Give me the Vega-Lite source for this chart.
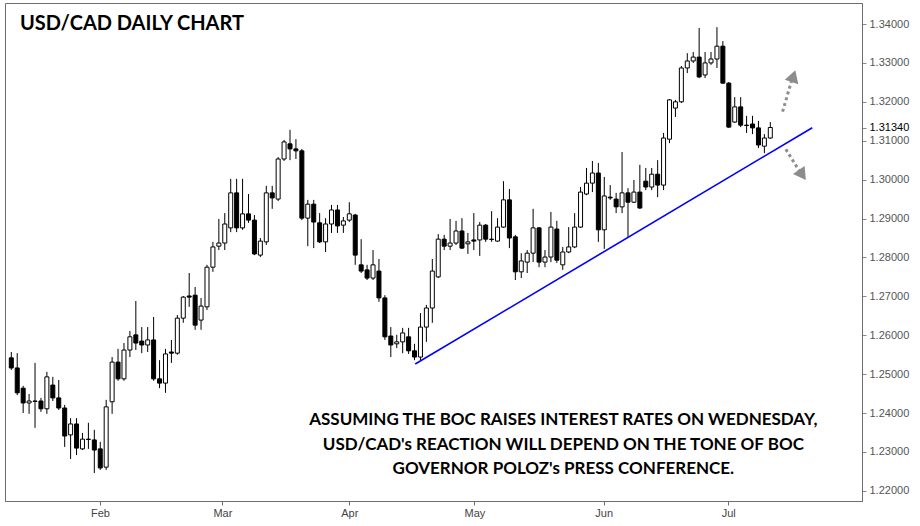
{
  "$schema": "https://vega.github.io/schema/vega-lite/v6.json",
  "width": 857,
  "height": 498,
  "autosize": {"type": "none"},
  "padding": {"left": 5, "top": 3, "right": 58, "bottom": 25},
  "background": "white",
  "config": {
    "view": {"stroke": "#6e6e6e", "strokeWidth": 1},
    "axis": {"grid": false}
  },
  "resolve": {"axis": {"x": "independent", "y": "independent"}},
  "datasets": {
    "candles": [
      {"i":0,"o":1.2542,"h":1.2557,"l":1.2511,"c":1.2516},
      {"i":1,"o":1.2516,"h":1.2554,"l":1.2446,"c":1.2452},
      {"i":2,"o":1.2464,"h":1.2470,"l":1.2400,"c":1.2426},
      {"i":3,"o":1.2426,"h":1.2449,"l":1.2398,"c":1.2431},
      {"i":4,"o":1.2431,"h":1.2529,"l":1.2362,"c":1.2430},
      {"i":5,"o":1.2431,"h":1.2439,"l":1.2403,"c":1.2411},
      {"i":6,"o":1.2411,"h":1.2506,"l":1.2398,"c":1.2493},
      {"i":7,"o":1.2472,"h":1.2493,"l":1.2431,"c":1.2439},
      {"i":8,"o":1.2439,"h":1.2485,"l":1.2408,"c":1.2413},
      {"i":9,"o":1.2413,"h":1.2421,"l":1.2313,"c":1.2341},
      {"i":10,"o":1.2344,"h":1.2387,"l":1.2282,"c":1.2372},
      {"i":11,"o":1.2372,"h":1.2387,"l":1.2292,"c":1.2310},
      {"i":12,"o":1.2308,"h":1.2349,"l":1.2305,"c":1.2333},
      {"i":13,"o":1.2333,"h":1.2375,"l":1.2308,"c":1.2332},
      {"i":14,"o":1.2331,"h":1.2357,"l":1.2246,"c":1.2305},
      {"i":15,"o":1.2308,"h":1.2326,"l":1.2254,"c":1.2259},
      {"i":16,"o":1.2261,"h":1.2434,"l":1.2254,"c":1.2416},
      {"i":17,"o":1.2429,"h":1.2544,"l":1.2398,"c":1.2531},
      {"i":18,"o":1.2531,"h":1.2565,"l":1.2483,"c":1.2488},
      {"i":19,"o":1.2488,"h":1.2580,"l":1.2483,"c":1.2562},
      {"i":20,"o":1.2562,"h":1.2611,"l":1.2544,"c":1.2596},
      {"i":21,"o":1.2601,"h":1.2688,"l":1.2562,"c":1.2580},
      {"i":22,"o":1.2585,"h":1.2621,"l":1.2554,"c":1.2575},
      {"i":23,"o":1.2575,"h":1.2621,"l":1.2557,"c":1.2588},
      {"i":24,"o":1.2588,"h":1.2647,"l":1.2483,"c":1.2488},
      {"i":25,"o":1.2488,"h":1.2536,"l":1.2464,"c":1.2477},
      {"i":26,"o":1.2477,"h":1.2565,"l":1.2452,"c":1.2552},
      {"i":27,"o":1.2557,"h":1.2588,"l":1.2529,"c":1.2554},
      {"i":28,"o":1.2554,"h":1.2652,"l":1.2550,"c":1.2644},
      {"i":29,"o":1.2644,"h":1.2701,"l":1.2632,"c":1.2698},
      {"i":30,"o":1.2701,"h":1.2760,"l":1.2673,"c":1.2698},
      {"i":31,"o":1.2703,"h":1.2724,"l":1.2614,"c":1.2626},
      {"i":32,"o":1.2639,"h":1.2696,"l":1.2614,"c":1.2675},
      {"i":33,"o":1.2673,"h":1.2781,"l":1.2665,"c":1.2775},
      {"i":34,"o":1.2775,"h":1.2840,"l":1.2763,"c":1.2827},
      {"i":35,"o":1.2829,"h":1.2899,"l":1.2819,"c":1.2837},
      {"i":36,"o":1.2837,"h":1.2914,"l":1.2819,"c":1.2886},
      {"i":37,"o":1.2876,"h":1.3002,"l":1.2865,"c":1.2966},
      {"i":38,"o":1.2966,"h":1.3002,"l":1.2865,"c":1.2876},
      {"i":39,"o":1.2876,"h":1.3002,"l":1.2871,"c":1.2912},
      {"i":40,"o":1.2912,"h":1.2963,"l":1.2889,"c":1.2896},
      {"i":41,"o":1.2896,"h":1.2909,"l":1.2806,"c":1.2809},
      {"i":42,"o":1.2806,"h":1.2850,"l":1.2801,"c":1.2842},
      {"i":43,"o":1.2840,"h":1.2984,"l":1.2832,"c":1.2966},
      {"i":44,"o":1.2966,"h":1.2984,"l":1.2925,"c":1.2953},
      {"i":45,"o":1.2950,"h":1.3058,"l":1.2945,"c":1.3053},
      {"i":46,"o":1.3053,"h":1.3102,"l":1.3048,"c":1.3097},
      {"i":47,"o":1.3092,"h":1.3128,"l":1.3050,"c":1.3079},
      {"i":48,"o":1.3079,"h":1.3104,"l":1.3053,"c":1.3074},
      {"i":49,"o":1.3074,"h":1.3079,"l":1.2896,"c":1.2901},
      {"i":50,"o":1.2901,"h":1.2948,"l":1.2829,"c":1.2937},
      {"i":51,"o":1.2937,"h":1.2948,"l":1.2824,"c":1.2891},
      {"i":52,"o":1.2889,"h":1.2914,"l":1.2837,"c":1.2840},
      {"i":53,"o":1.2840,"h":1.2901,"l":1.2814,"c":1.2886},
      {"i":54,"o":1.2886,"h":1.2935,"l":1.2863,"c":1.2922},
      {"i":55,"o":1.2922,"h":1.2935,"l":1.2863,"c":1.2881},
      {"i":56,"o":1.2883,"h":1.2904,"l":1.2863,"c":1.2894},
      {"i":57,"o":1.2896,"h":1.2942,"l":1.2891,"c":1.2912},
      {"i":58,"o":1.2909,"h":1.2912,"l":1.2781,"c":1.2806},
      {"i":59,"o":1.2781,"h":1.2847,"l":1.2760,"c":1.2765},
      {"i":60,"o":1.2768,"h":1.2781,"l":1.2742,"c":1.2747},
      {"i":61,"o":1.2747,"h":1.2819,"l":1.2742,"c":1.2781},
      {"i":62,"o":1.2765,"h":1.2796,"l":1.2686,"c":1.2696},
      {"i":63,"o":1.2696,"h":1.2703,"l":1.2588,"c":1.2596},
      {"i":64,"o":1.2598,"h":1.2621,"l":1.2544,"c":1.2575},
      {"i":65,"o":1.2578,"h":1.2601,"l":1.2567,"c":1.2583},
      {"i":66,"o":1.2583,"h":1.2619,"l":1.2554,"c":1.2606},
      {"i":67,"o":1.2596,"h":1.2619,"l":1.2552,"c":1.2560},
      {"i":68,"o":1.2560,"h":1.2578,"l":1.2536,"c":1.2544},
      {"i":69,"o":1.2544,"h":1.2657,"l":1.2536,"c":1.2621},
      {"i":70,"o":1.2621,"h":1.2678,"l":1.2583,"c":1.2670},
      {"i":71,"o":1.2670,"h":1.2796,"l":1.2632,"c":1.2765},
      {"i":72,"o":1.2750,"h":1.2860,"l":1.2747,"c":1.2847},
      {"i":73,"o":1.2847,"h":1.2858,"l":1.2819,"c":1.2829},
      {"i":74,"o":1.2829,"h":1.2899,"l":1.2819,"c":1.2837},
      {"i":75,"o":1.2837,"h":1.2894,"l":1.2832,"c":1.2868},
      {"i":76,"o":1.2868,"h":1.2901,"l":1.2822,"c":1.2824},
      {"i":77,"o":1.2835,"h":1.2863,"l":1.2809,"c":1.2840},
      {"i":78,"o":1.2845,"h":1.2914,"l":1.2819,"c":1.2842},
      {"i":79,"o":1.2845,"h":1.2891,"l":1.2804,"c":1.2883},
      {"i":80,"o":1.2883,"h":1.2886,"l":1.2840,"c":1.2847},
      {"i":81,"o":1.2847,"h":1.2919,"l":1.2840,"c":1.2846},
      {"i":82,"o":1.2842,"h":1.2901,"l":1.2840,"c":1.2878},
      {"i":83,"o":1.2878,"h":1.2996,"l":1.2876,"c":1.2948},
      {"i":84,"o":1.2948,"h":1.2976,"l":1.2824,"c":1.2850},
      {"i":85,"o":1.2853,"h":1.2858,"l":1.2742,"c":1.2763},
      {"i":86,"o":1.2763,"h":1.2811,"l":1.2747,"c":1.2791},
      {"i":87,"o":1.2788,"h":1.2819,"l":1.2760,"c":1.2811},
      {"i":88,"o":1.2811,"h":1.2925,"l":1.2788,"c":1.2876},
      {"i":89,"o":1.2876,"h":1.2878,"l":1.2775,"c":1.2788},
      {"i":90,"o":1.2788,"h":1.2819,"l":1.2775,"c":1.2801},
      {"i":91,"o":1.2801,"h":1.2917,"l":1.2788,"c":1.2878},
      {"i":92,"o":1.2873,"h":1.2894,"l":1.2786,"c":1.2793},
      {"i":93,"o":1.2781,"h":1.2827,"l":1.2768,"c":1.2814},
      {"i":94,"o":1.2814,"h":1.2878,"l":1.2811,"c":1.2827},
      {"i":95,"o":1.2827,"h":1.2914,"l":1.2824,"c":1.2878},
      {"i":96,"o":1.2878,"h":1.2981,"l":1.2876,"c":1.2968},
      {"i":97,"o":1.2963,"h":1.3030,"l":1.2960,"c":1.2991},
      {"i":98,"o":1.2991,"h":1.3048,"l":1.2968,"c":1.3017},
      {"i":99,"o":1.3017,"h":1.3043,"l":1.2840,"c":1.2871},
      {"i":100,"o":1.2871,"h":1.3007,"l":1.2822,"c":1.2958},
      {"i":101,"o":1.2955,"h":1.2986,"l":1.2948,"c":1.2953},
      {"i":102,"o":1.2950,"h":1.2966,"l":1.2914,"c":1.2930},
      {"i":103,"o":1.2930,"h":1.3071,"l":1.2914,"c":1.2966},
      {"i":104,"o":1.2966,"h":1.2978,"l":1.2853,"c":1.2942},
      {"i":105,"o":1.2942,"h":1.2999,"l":1.2940,"c":1.2968},
      {"i":106,"o":1.2968,"h":1.3038,"l":1.2925,"c":1.2927},
      {"i":107,"o":1.2996,"h":1.3030,"l":1.2973,"c":1.2981},
      {"i":108,"o":1.2981,"h":1.3030,"l":1.2973,"c":1.3014},
      {"i":109,"o":1.3014,"h":1.3050,"l":1.2955,"c":1.2986},
      {"i":110,"o":1.2986,"h":1.3120,"l":1.2973,"c":1.3107},
      {"i":111,"o":1.3104,"h":1.3207,"l":1.3094,"c":1.3205},
      {"i":112,"o":1.3184,"h":1.3205,"l":1.3161,"c":1.3200},
      {"i":113,"o":1.3200,"h":1.3292,"l":1.3197,"c":1.3287},
      {"i":114,"o":1.3287,"h":1.3325,"l":1.3274,"c":1.3305},
      {"i":115,"o":1.3305,"h":1.3328,"l":1.3300,"c":1.3315},
      {"i":116,"o":1.3315,"h":1.3390,"l":1.3261,"c":1.3264},
      {"i":117,"o":1.3269,"h":1.3328,"l":1.3261,"c":1.3300},
      {"i":118,"o":1.3300,"h":1.3328,"l":1.3295,"c":1.3310},
      {"i":119,"o":1.3310,"h":1.3392,"l":1.3287,"c":1.3343},
      {"i":120,"o":1.3343,"h":1.3356,"l":1.3246,"c":1.3248},
      {"i":121,"o":1.3248,"h":1.3251,"l":1.3133,"c":1.3135},
      {"i":122,"o":1.3148,"h":1.3212,"l":1.3146,"c":1.3187},
      {"i":123,"o":1.3187,"h":1.3212,"l":1.3135,"c":1.3140},
      {"i":124,"o":1.3140,"h":1.3164,"l":1.3120,"c":1.3139},
      {"i":125,"o":1.3143,"h":1.3164,"l":1.3117,"c":1.3133},
      {"i":126,"o":1.3133,"h":1.3151,"l":1.3081,"c":1.3089},
      {"i":127,"o":1.3086,"h":1.3117,"l":1.3068,"c":1.3107},
      {"i":128,"o":1.3107,"h":1.3148,"l":1.3105,"c":1.3134}
    ],
    "trend": [
      {"i": 68.12, "p": 1.2526},
      {"i": 135.07, "p": 1.31335}
    ],
    "arrows": [
      {"g": "up", "i": 130.07, "p": 1.31746},
      {"g": "up", "i": 131.6, "p": 1.3255},
      {"g": "down", "i": 130.62, "p": 1.3078},
      {"g": "down", "i": 133.0, "p": 1.3020}
    ],
    "heads": [
      {"dir": "up", "i": 131.9, "p": 1.3266},
      {"dir": "down", "i": 133.4, "p": 1.3012}
    ],
    "title": [
      {"i": 1.45, "p": 1.3385, "t": "USD/CAD DAILY CHART"}
    ],
    "notes": [
      {"i": 93.1, "p": 1.2369, "t": "ASSUMING THE BOC RAISES INTEREST RATES ON WEDNESDAY,"},
      {"i": 93.1, "p": 1.2306, "t": "USD/CAD's REACTION WILL DEPEND ON THE TONE OF BOC"},
      {"i": 93.1, "p": 1.2244, "t": "GOVERNOR POLOZ's PRESS CONFERENCE."}
    ]
  },
  "layer": [
    {
      "data": {"name": "candles"},
      "mark": {"type": "rule", "color": "black", "strokeWidth": 1},
      "encoding": {
        "x": {
          "field": "i", "type": "quantitative",
          "scale": {"domain": [-0.22, 142.62], "nice": false, "zero": false},
          "axis": {
            "orient": "bottom",
            "values": [14.95, 35.6, 57.0, 78.1, 99.9, 120.9],
            "labelExpr": "datum.value < 25 ? 'Feb' : datum.value < 45 ? 'Mar' : datum.value < 68 ? 'Apr' : datum.value < 90 ? 'May' : datum.value < 112 ? 'Jun' : 'Jul'",
            "title": null, "grid": false,
            "domainColor": "#6e6e6e", "tickColor": "#6e6e6e", "tickSize": 4,
            "labelColor": "#444444", "labelFontSize": 11,
            "labelFont": "'Liberation Sans Narrow', 'Liberation Sans', Arial, sans-serif",
            "labelPadding": 2
          }
        },
        "y": {
          "field": "l", "type": "quantitative",
          "scale": {"domain": [1.2174, 1.3454], "nice": false, "zero": false},
          "axis": {
            "orient": "right",
            "values": [1.22, 1.23, 1.24, 1.25, 1.26, 1.27, 1.28, 1.29, 1.30, 1.31, 1.3134, 1.32, 1.33, 1.34],
            "format": ".5f",
            "title": null, "grid": false, "labelOverlap": false,
            "domainColor": "#6e6e6e", "tickColor": "#888888", "tickSize": 4,
            "labelColor": {"expr": "abs(datum.value - 1.3134) < 0.00001 ? '#000000' : '#555555'"},
            "labelFontSize": 11, "labelFont": "Liberation Sans", "labelPadding": 3
          }
        },
        "y2": {"field": "h"}
      }
    },
    {
      "data": {"name": "candles"},
      "mark": {"type": "bar", "size": 4, "stroke": "black", "strokeWidth": 1},
      "encoding": {
        "x": {"field": "i", "type": "quantitative", "axis": null},
        "y": {"field": "o", "type": "quantitative", "axis": null},
        "y2": {"field": "c"},
        "fill": {"condition": {"test": "datum.c >= datum.o", "value": "white"}, "value": "black"}
      }
    },
    {
      "data": {"name": "trend"},
      "mark": {"type": "line", "color": "#0000ff", "strokeWidth": 1.6},
      "encoding": {
        "x": {"field": "i", "type": "quantitative", "axis": null},
        "y": {"field": "p", "type": "quantitative", "axis": null}
      }
    },
    {
      "data": {"name": "arrows"},
      "mark": {"type": "line", "color": "#8c8c8c", "strokeWidth": 3, "strokeDash": [3, 3], "strokeCap": "butt"},
      "encoding": {
        "x": {"field": "i", "type": "quantitative", "axis": null},
        "y": {"field": "p", "type": "quantitative", "axis": null},
        "detail": {"field": "g"}
      }
    },
    {
      "data": {"name": "heads"},
      "transform": [{"filter": "datum.dir == 'up'"}],
      "mark": {"type": "point", "shape": "triangle-up", "filled": true, "color": "#8c8c8c", "size": 200, "angle": 18, "opacity": 1},
      "encoding": {
        "x": {"field": "i", "type": "quantitative", "axis": null},
        "y": {"field": "p", "type": "quantitative", "axis": null}
      }
    },
    {
      "data": {"name": "heads"},
      "transform": [{"filter": "datum.dir == 'down'"}],
      "mark": {"type": "point", "shape": "triangle-down", "filled": true, "color": "#8c8c8c", "size": 200, "angle": 325, "opacity": 1},
      "encoding": {
        "x": {"field": "i", "type": "quantitative", "axis": null},
        "y": {"field": "p", "type": "quantitative", "axis": null}
      }
    },
    {
      "data": {"name": "title"},
      "mark": {"type": "text", "align": "left", "baseline": "alphabetic", "font": "Lato", "fontWeight": "bold", "fontSize": 20, "color": "#000000"},
      "encoding": {
        "x": {"field": "i", "type": "quantitative", "axis": null},
        "y": {"field": "p", "type": "quantitative", "axis": null},
        "text": {"field": "t"}
      }
    },
    {
      "data": {"name": "notes"},
      "mark": {"type": "text", "align": "center", "baseline": "alphabetic", "font": "Lato", "fontWeight": "bold", "fontSize": 17, "color": "#000000"},
      "encoding": {
        "x": {"field": "i", "type": "quantitative", "axis": null},
        "y": {"field": "p", "type": "quantitative", "axis": null},
        "text": {"field": "t"}
      }
    }
  ]
}
